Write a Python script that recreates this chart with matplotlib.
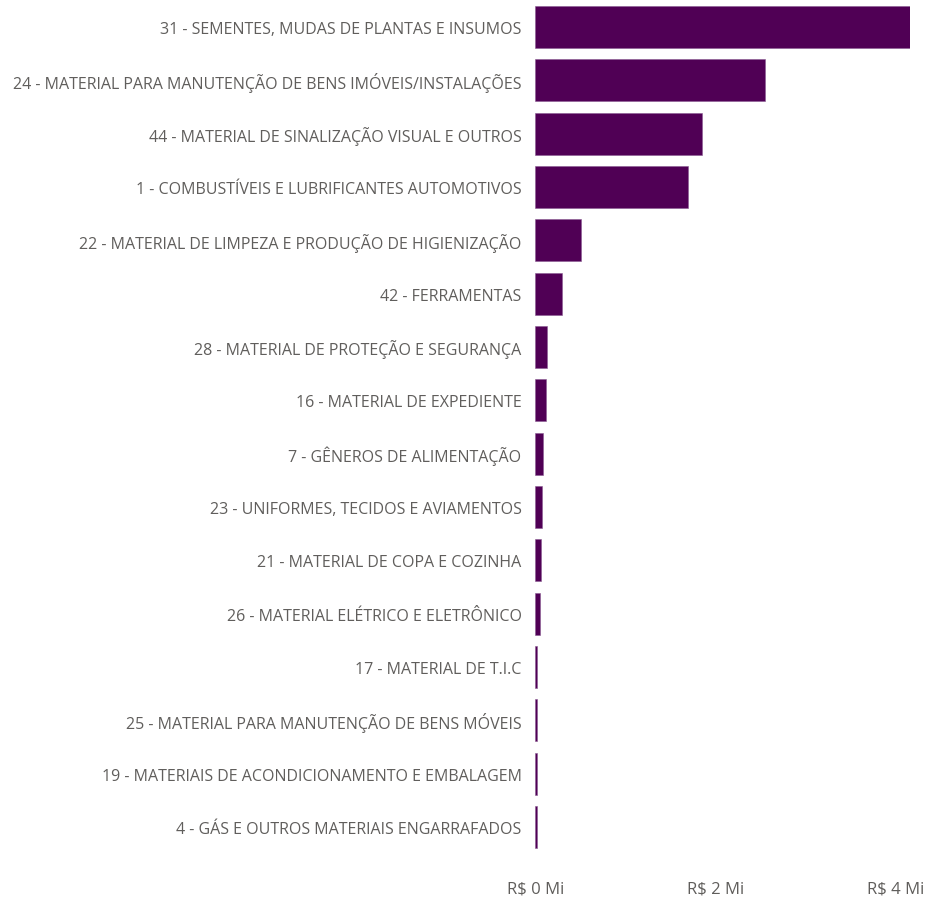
import matplotlib.pyplot as plt
import numpy as np

# categories (top to bottom) and values in R$ millions
categories = [
    "31 - SEMENTES, MUDAS DE PLANTAS E INSUMOS",
    "24 - MATERIAL PARA MANUTENÇÃO DE BENS IMÓVEIS/INSTALAÇÕES",
    "44 - MATERIAL DE SINALIZAÇÃO VISUAL E OUTROS",
    "1 - COMBUSTÍVEIS E LUBRIFICANTES AUTOMOTIVOS",
    "22 - MATERIAL DE LIMPEZA E PRODUÇÃO DE HIGIENIZAÇÃO",
    "42 - FERRAMENTAS",
    "28 - MATERIAL DE PROTEÇÃO E SEGURANÇA",
    "16 - MATERIAL DE EXPEDIENTE",
    "7 - GÊNEROS DE ALIMENTAÇÃO",
    "23 - UNIFORMES, TECIDOS E AVIAMENTOS",
    "21 - MATERIAL DE COPA E COZINHA",
    "26 - MATERIAL ELÉTRICO E ELETRÔNICO",
    "17 - MATERIAL DE T.I.C",
    "25 - MATERIAL PARA MANUTENÇÃO DE BENS MÓVEIS",
    "19 - MATERIAIS DE ACONDICIONAMENTO E EMBALAGEM",
    "4 - GÁS E OUTROS MATERIAIS ENGARRAFADOS",
]
values = [4.16, 2.55, 1.85, 1.69, 0.50, 0.29, 0.124, 0.12, 0.087,
          0.072, 0.061, 0.055, 0.016, 0.015, 0.014, 0.013]
xticks = [0, 2, 4]
xtick_labels = ["R$ 0 Mi", "R$ 2 Mi", "R$ 4 Mi"]

BAR_COLOR = "#500055"
TEXT_COLOR = "#605E5C"

plt.rcParams["font.family"] = ["Open Sans", "DejaVu Sans"]

fig = plt.figure(figsize=(9.3, 9.03), dpi=100)
ax = fig.add_axes([0.5758, 0.0535, 0.9785 - 0.5758, 0.9986 - 0.0535])

y = np.arange(len(categories))
ax.barh(y, values, height=0.79, color=BAR_COLOR, edgecolor="#8a5a92", linewidth=0.4)
ax.set_ylim(len(categories) - 0.5, -0.5)
ax.set_xlim(0, 4.16)

ax.set_yticks(y)
ax.set_yticklabels(categories, fontsize=11.5, color=TEXT_COLOR)
ax.set_xticks(xticks)
ax.set_xticklabels(xtick_labels, fontsize=12, color=TEXT_COLOR)
ax.tick_params(axis="y", length=0, pad=10)
ax.tick_params(axis="x", length=0, pad=19)

for s in ax.spines.values():
    s.set_visible(False)
ax.grid(False)

fig.savefig("out.png", dpi=100, facecolor="white")
